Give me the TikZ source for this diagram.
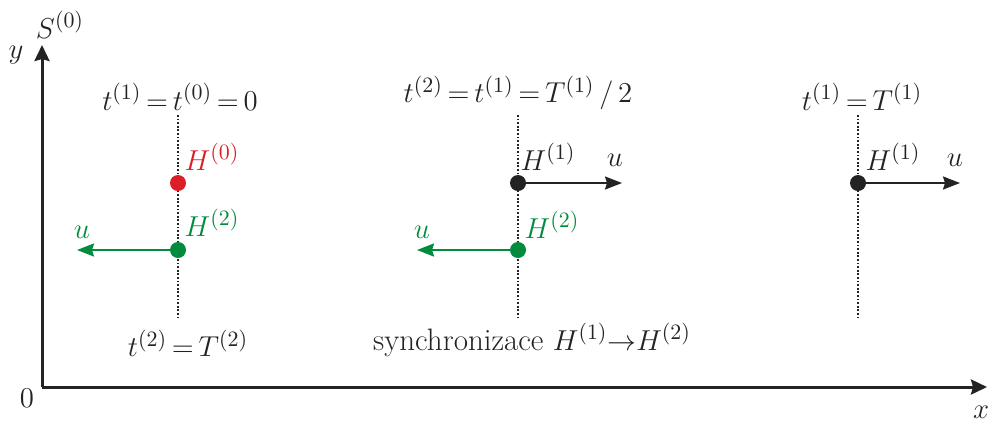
\documentclass[tikz,border=0pt]{standalone}
\usepackage{xcolor}
\usepackage{tikz}
\usetikzlibrary{arrows.meta, positioning, calc}
\definecolor{hred}{RGB}{220, 30, 40}
\definecolor{hgreen}{RGB}{0, 140, 60}
\definecolor{axisgray}{RGB}{35, 35, 35}
\thickmuskip=3mu plus 1mu

\tikzset{
    lbl/.style={inner sep=1pt, text=axisgray, font=\fontsize{15.5}{18}\selectfont},
    dot/.style={circle, inner sep=0pt, minimum size=8pt},
    timeline/.style={line width=0.9pt, axisgray, dash pattern=on 0.9pt off 0.9pt},
    uarrow/.style={line width=1.1pt, -{Stealth[length=8.5pt, width=6.5pt, inset=1pt]}},
    axis/.style={line width=1.5pt, axisgray, -{Stealth[length=8pt, width=7.5pt, inset=1pt]}}
}

\begin{document}
\begin{tikzpicture}[x=0.5pt, y=-0.5pt]
    \useasboundingbox (0,0) rectangle (990,425);

    % axes
    \coordinate (o) at (42,387);
    \coordinate (ytip) at (42,45);
    \coordinate (xtip) at (987,387);
    \draw[axis] (o) -- (ytip);
    \draw[axis] (o) -- (xtip);
    \node[lbl] (ylab) at (16,55) {$y$};
    \node[lbl] (slab) at (60,25) {$S^{(0)}$};
    \node[lbl] (zero) at (27,398) {$0$};
    \node[lbl] (xlab) at (981,412) {$x$};

    % timelines
    \foreach \name/\xx in {one/178, two/518, three/858} {
        \coordinate (\name top) at (\xx,115);
        \coordinate (\name bot) at (\xx,320);
        \draw[timeline] (\name top) -- (\name bot);
    }

    % first column: t = 0
    \node[lbl] (tzero) at (180,97) {$t^{(1)} = t^{(0)} = 0$};
    \node[dot, fill=hred] (hzero) at (178,183) {};
    \node[lbl, text=hred] (hzerolab) at (212,157) {$H^{(0)}$};
    \node[dot, fill=hgreen] (htwoa) at (178,250) {};
    \node[lbl, text=hgreen] (htwoalab) at (212,223) {$H^{(2)}$};
    \coordinate (utwoa) at (77,250);
    \draw[uarrow, hgreen] (htwoa) -- (utwoa);
    \node[lbl, text=hgreen] (utwoalab) at (82,232) {$u$};
    \node[lbl] (tend) at (188,343) {$t^{(2)} = T^{(2)}$};

    % second column: half period
    \node[lbl] (thalf) at (518,93) {$t^{(2)} = t^{(1)} = T^{(1)}\,/\,2$};
    \node[dot, fill=axisgray] (honeb) at (518,183) {};
    \node[lbl] (honeblab) at (548,157) {$H^{(1)}$};
    \coordinate (uoneb) at (622,183);
    \draw[uarrow, axisgray] (honeb) -- (uoneb);
    \node[lbl] (uoneblab) at (615,160) {$u$};
    \node[dot, fill=hgreen] (htwob) at (518,250) {};
    \node[lbl, text=hgreen] (htwoblab) at (552,225) {$H^{(2)}$};
    \coordinate (utwob) at (417,250);
    \draw[uarrow, hgreen] (htwob) -- (utwob);
    \node[lbl, text=hgreen] (utwoblab) at (422,232) {$u$};
    \node[lbl] (sync) at (532,340) {synchronizace $H^{(1)}\!\rightarrow\! H^{(2)}$};

    % third column: full period
    \node[lbl] (tfull) at (862,97) {$t^{(1)} = T^{(1)}$};
    \node[dot, fill=axisgray] (honec) at (858,183) {};
    \node[lbl] (honeclab) at (893,157) {$H^{(1)}$};
    \coordinate (uonec) at (960,183);
    \draw[uarrow, axisgray] (honec) -- (uonec);
    \node[lbl] (uoneclab) at (955,160) {$u$};
\end{tikzpicture}
\end{document}
